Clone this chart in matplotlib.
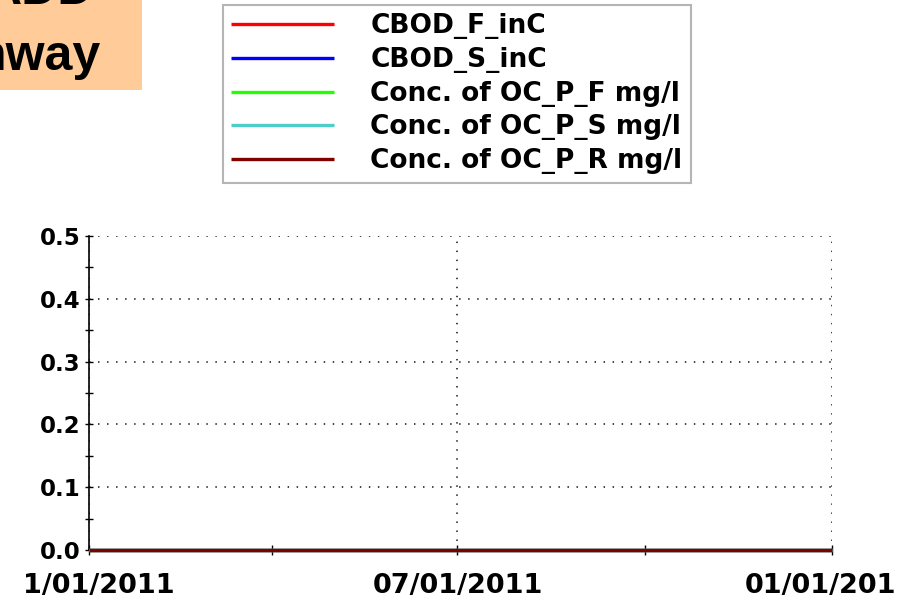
import matplotlib
matplotlib.use("Agg")
import matplotlib.pyplot as plt
import matplotlib.dates as mdates
import matplotlib.transforms as mtransforms
from matplotlib.patches import Rectangle
from matplotlib.ticker import MultipleLocator, FixedLocator
import datetime as dt

# ---- data ----
dates = [dt.date(2011, 1, 1), dt.date(2012, 1, 1)]
series_names = ["CBOD_F_inC", "CBOD_S_inC", "Conc. of OC_P_F mg/l",
                "Conc. of OC_P_S mg/l", "Conc. of OC_P_R mg/l"]
series_values = [
    [0.0, 0.0],
    [0.0, 0.0],
    [0.0, 0.0],
    [0.0, 0.0],
    [0.0, 0.0],
]
series_colors = ["#ff0000", "#0000ff", "#22ff00", "#4ecdcb", "#800000"]
x_tick_dates = [dt.date(2011, 1, 1), dt.date(2011, 7, 1), dt.date(2012, 1, 1)]
x_tick_labels = ["1/01/2011", "07/01/2011", "01/01/201"]
x_minor_dates = [dt.date(2011, 4, 1), dt.date(2011, 10, 1)]
y_ticks = [0.0, 0.1, 0.2, 0.3, 0.4, 0.5]
title_lines = ["ADD", "nway"]

W, H = 918, 605
fig = plt.figure(figsize=(W / 100, H / 100), dpi=100)
fig.patch.set_facecolor("white")

L, R, B, T = 89, 832, 550, 236
ax = fig.add_axes([L / W, 1 - B / H, (R - L) / W, (B - T) / H])

for name, vals, c in zip(series_names, series_values, series_colors):
    ax.plot(dates, vals, color=c, lw=2.4, label=name, zorder=3, clip_on=False,
            solid_capstyle="butt")

ax.set_xlim(dates[0], dates[-1])
ax.set_ylim(0, 0.5)

ax.xaxis.set_major_locator(FixedLocator(mdates.date2num(x_tick_dates)))
ax.xaxis.set_minor_locator(FixedLocator(mdates.date2num(x_minor_dates)))
ax.set_xticklabels(x_tick_labels)
ax.set_yticks(y_ticks)
ax.set_yticklabels([f"{v:.1f}" for v in y_ticks])
ax.yaxis.set_minor_locator(MultipleLocator(0.05))

for s in ["top", "right"]:
    ax.spines[s].set_visible(False)
ax.spines["left"].set_linewidth(1.2)
ax.spines["bottom"].set_linewidth(1.2)

ax.tick_params(axis="both", which="both", direction="inout", color="black", width=1.0)
ax.tick_params(axis="y", which="major", length=6, pad=3, labelsize=16.5)
ax.tick_params(axis="y", which="minor", length=6)
ax.tick_params(axis="x", which="major", length=7, pad=13, labelsize=19.5)
ax.tick_params(axis="x", which="minor", length=7)

for lab in ax.get_xticklabels() + ax.get_yticklabels():
    lab.set_fontweight("bold")
    lab.set_family("DejaVu Sans")

ax.grid(True, which="major", color="#333333", lw=1.3, ls=(0, (0.8, 4.2)), zorder=1)
ax.set_axisbelow(True)

# offset the edge x labels as in the reference
xl = ax.get_xticklabels()
xl[0].set_transform(xl[0].get_transform() + mtransforms.ScaledTranslation(9.5 / 100, 0, fig.dpi_scale_trans))
xl[2].set_transform(xl[2].get_transform() + mtransforms.ScaledTranslation(-11 / 100, 0, fig.dpi_scale_trans))

# legend
leg = fig.legend(loc="upper left", bbox_to_anchor=(223 / W, 1 - 5 / H),
                 bbox_transform=fig.transFigure, borderaxespad=0,
                 prop={"family": "DejaVu Sans", "weight": "bold", "size": 19},
                 handlelength=3.9, handletextpad=1.36, labelspacing=0.29,
                 borderpad=0.32, fancybox=False, framealpha=1, edgecolor="#b5b5b5")
leg.get_frame().set_linewidth(1.5)
for h in leg.get_lines():
    h.set_linewidth(2.4)

# orange title box (cropped)
fig.patches.append(Rectangle((0, 1 - 90 / H), 142 / W, 90 / H, transform=fig.transFigure,
                             facecolor="#ffcc99", edgecolor="none", zorder=0))
fig.text(94 / W, 1 - 4 / H, title_lines[0], ha="right", va="baseline",
         fontsize=36, fontweight="bold", family="Liberation Sans")
fig.text(101 / W, 1 - 70 / H, title_lines[1], ha="right", va="baseline",
         fontsize=36, fontweight="bold", family="Liberation Sans")

fig.savefig("out.png", dpi=100, facecolor="white")
